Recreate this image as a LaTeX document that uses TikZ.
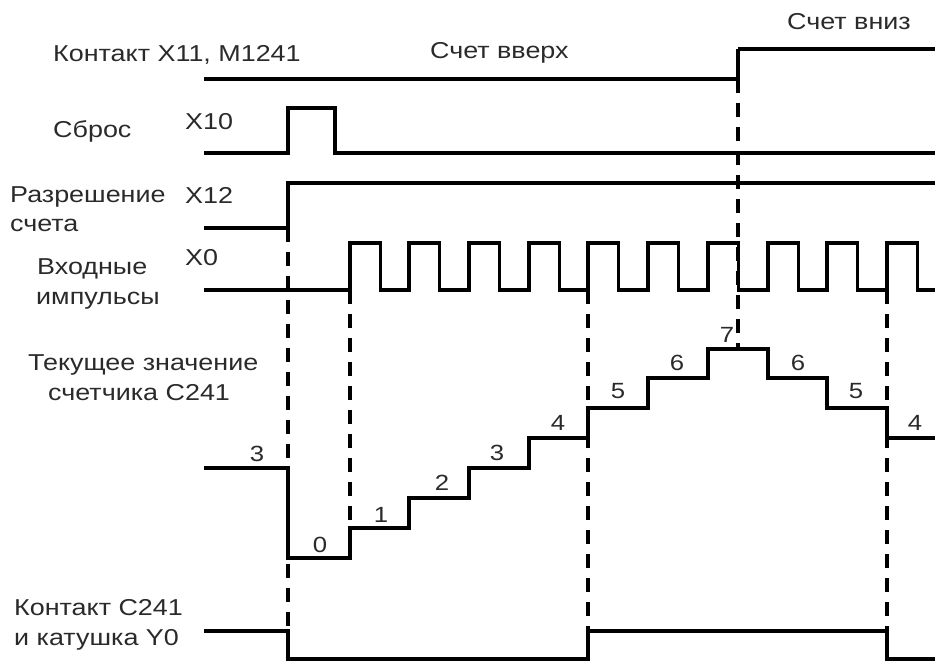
\documentclass[tikz,border=0pt]{standalone}
\usepackage{fontspec}
\setmainfont{Liberation Sans}
\usepackage{graphicx}
\newcommand{\sx}[1]{\scalebox{1.17}[1]{#1}}
\definecolor{txtc}{HTML}{2A2A2A}
\begin{document}
\begin{tikzpicture}[x=1pt,y=-1pt,
  lbl/.style={anchor=base west, inner sep=0pt, text=txtc, font=\fontsize{23}{27}\selectfont},
  num/.style={anchor=base, inner sep=0pt, text=txtc, font=\fontsize{22}{26}\selectfont},
  sig/.style={line width=3.4pt, draw=black, line join=miter},
  guide/.style={line width=3.2pt, draw=black, dash pattern=on 14pt off 10pt}]
\useasboundingbox (0,0) rectangle (935,661);

% labels
\node[lbl] (lx11) at (53,62) {\sx{Контакт X11, M1241}};
\node[lbl] (lup) at (430,59) {\sx{Счет вверх}};
\node[lbl] (ldown) at (787,30) {\sx{Счет вниз}};
\node[lbl] (lrst) at (53,137) {\sx{Сброс}};
\node[lbl] (lx10) at (185,129) {\sx{X10}};
\node[lbl] (len1) at (10,202) {\sx{Разрешение}};
\node[lbl] (len2) at (10,231) {\sx{счета}};
\node[lbl] (lx12) at (185,203) {\sx{X12}};
\node[lbl] (lin1) at (37,274) {\sx{Входные}};
\node[lbl] (lin2) at (36,304) {\sx{импульсы}};
\node[lbl] (lx0) at (185,265) {\sx{X0}};
\node[lbl] (lcv1) at (28,370) {\sx{Текущее значение}};
\node[lbl] (lcv2) at (48,400) {\sx{счетчика C241}};
\node[lbl] (lc1) at (14,615) {\sx{Контакт C241}};
\node[lbl] (lc2) at (14,645) {\sx{и катушка Y0}};

% counter values
\node[num] (n3a) at (257,461) {\sx{3}};
\node[num] (n0) at (320,552) {\sx{0}};
\node[num] (n1) at (381,522) {\sx{1}};
\node[num] (n2) at (442,490) {\sx{2}};
\node[num] (n3b) at (497,460) {\sx{3}};
\node[num] (n4a) at (558,430) {\sx{4}};
\node[num] (n5a) at (618,398) {\sx{5}};
\node[num] (n6a) at (677,370) {\sx{6}};
\node[num] (n7) at (727,342) {\sx{7}};
\node[num] (n6b) at (798,370) {\sx{6}};
\node[num] (n5b) at (856,398) {\sx{5}};
\node[num] (n4b) at (915,430) {\sx{4}};

% dashed guides
\coordinate (g1t) at (288,228); \coordinate (g1b) at (288,631);
\coordinate (g2t) at (350,290); \coordinate (g2b) at (350,528);
\coordinate (g3t) at (588,290); \coordinate (g3b) at (588,631);
\coordinate (g4t) at (738,79);  \coordinate (g4b) at (738,349);
\coordinate (g5t) at (887,290); \coordinate (g5b) at (887,631);
\draw[guide,line width=3.8pt] (g1t) -- (g1b);
\draw[guide] (g2t) -- (g2b);
\draw[guide,line width=4pt] (g3t) -- (g3b);
\draw[guide] (g4t) -- (g4b);
\draw[guide] (g5t) -- (g5b);

% signals
\draw[sig] (204,79) -- (738,79) -- (738,49);
\draw[sig,line width=4.5pt] (738,49) -- (935,49);
\draw[sig] (204,153) -- (288,153) -- (288,108) -- (335,108) -- (335,153) -- (935,153);
\draw[sig] (204,228) -- (288,228) -- (288,183) -- (935,183);
\draw[sig] (204,290)
  \foreach \r in {350,409,469,529,588,648,708,768,827,887} { -- (\r,290) -- (\r,243) -- (\r+30.5,243) -- (\r+30.5,290) }
  -- (935,290);
\draw[sig] (204,468) -- (288,468) -- (288,558) -- (350,558) -- (350,528) -- (409,528)
  -- (409,498) -- (469,498) -- (469,468) -- (529,468) -- (529,438) -- (588,438)
  -- (588,408) -- (648,408) -- (648,378) -- (708,378) -- (708,349) -- (768,349)
  -- (768,378) -- (827,378) -- (827,408) -- (887,408) -- (887,438) -- (935,438);
\draw[sig] (204,631) -- (288,631) -- (288,659) -- (588,659) -- (588,631) -- (887,631) -- (887,659) -- (935,659);
\end{tikzpicture}
\end{document}
